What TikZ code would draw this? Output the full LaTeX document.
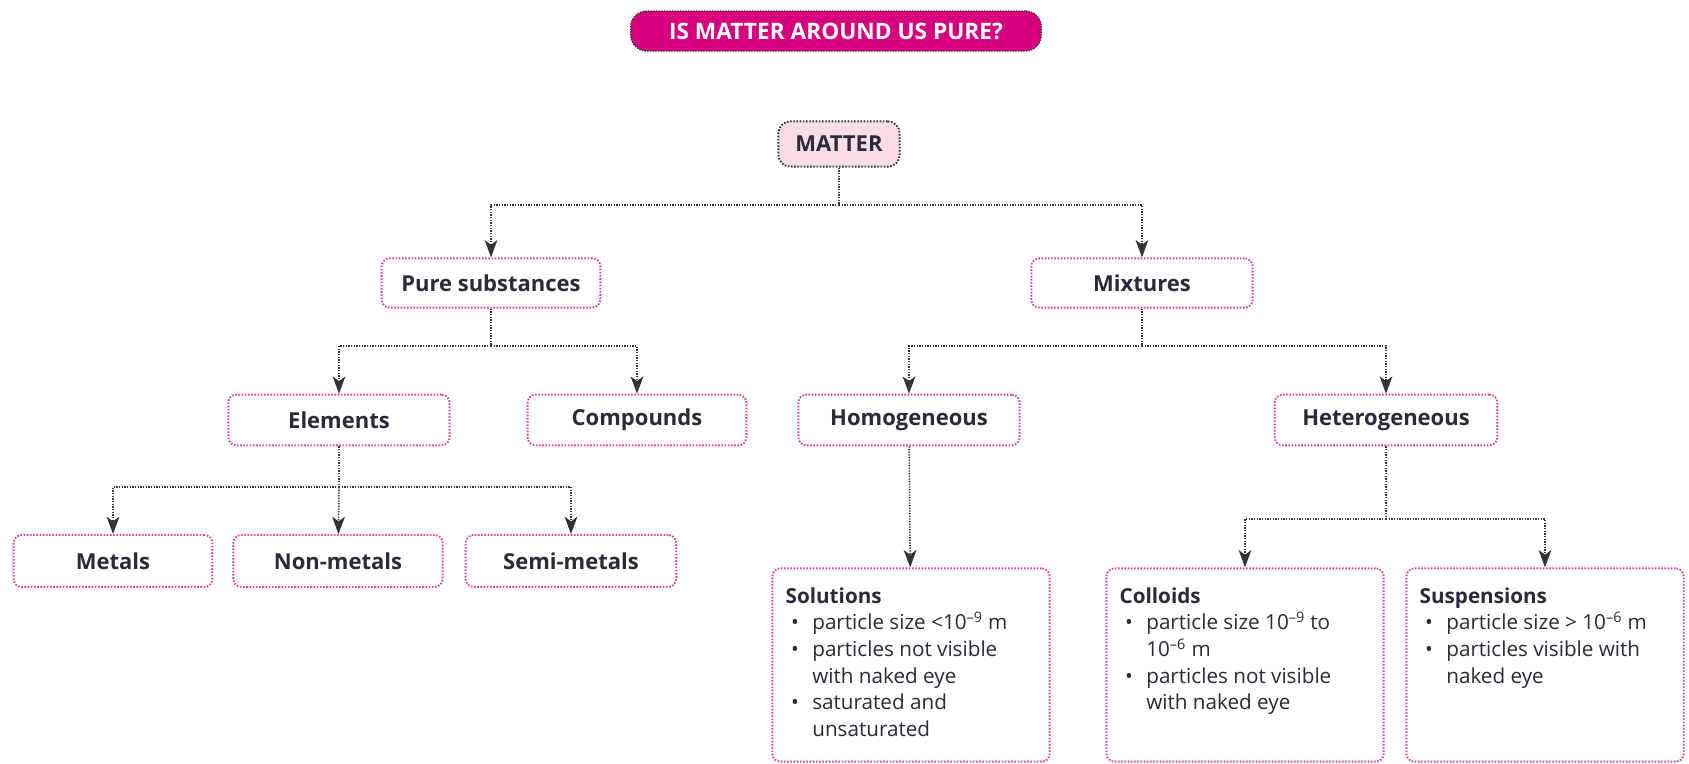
\documentclass[tikz,border=0pt]{standalone}
\usepackage{fontspec}
\setmainfont{Open Sans}
\usetikzlibrary{arrows.meta,positioning,calc}
\definecolor{titlecol}{HTML}{D6007F}
\definecolor{pinkfill}{HTML}{FBDDE6}
\definecolor{pinkline}{HTML}{E2409C}
\definecolor{textcol}{HTML}{2A2A38}
\definecolor{linecol}{HTML}{333333}
\newcommand{\bitem}{\makebox[20pt][l]{\hspace{4pt}\textbullet}}
\newcommand{\bcont}{\hspace*{20pt}}
\newcommand{\headline}[1]{\rule{0pt}{26pt}{\bfseries #1}}

\begin{document}
\begin{tikzpicture}[x=0.75pt, y=-0.75pt,
  box/.style={draw=pinkline, line width=1.4pt, dash pattern=on 1.2pt off 1.2pt,
              rounded corners=6pt, fill=white, text=textcol,
              font=\fontsize{16.5}{19}\selectfont\bfseries, minimum height=37pt},
  leaf/.style={box, minimum height=39pt},
  infobox/.style={box, font=\fontsize{15.5}{20}\selectfont, inner xsep=10pt, inner ysep=0pt},
  conn/.style={draw=linecol, line width=1.2pt, dash pattern=on 1pt off 1pt},
  arr/.style={conn, -{Stealth[length=13pt, width=9.5pt, inset=3.5pt]}}
]
  \useasboundingbox (0,0) rectangle (1689,764);

  \node[fill=titlecol, draw=linecol, line width=1pt, dash pattern=on 1pt off 1pt,
        rounded corners=12pt, minimum width=308pt, minimum height=30pt,
        text=white, font=\fontsize{17}{20}\selectfont\bfseries] (title) at (836,31) {IS MATTER AROUND US PURE?};

  \node[box, fill=pinkfill, draw=linecol, rounded corners=9pt,
        minimum width=91pt, minimum height=34pt] (matter) at (839,144) {MATTER};

  \node[box, minimum width=164pt] (pure) at (491,283) {Pure substances};
  \node[box, minimum width=166pt] (mix) at (1142,283) {Mixtures};

  \node[box, minimum width=166pt, minimum height=38pt] (elem) at (339,420) {Elements};
  \node[box, minimum width=164pt, minimum height=38pt] (comp) at (637,420) {Compounds};
  \node[box, minimum width=166pt, minimum height=38pt] (homo) at (909,420) {Homogeneous};
  \node[box, minimum width=167pt, minimum height=38pt] (hetero) at (1386,420) {Heterogeneous};

  \node[leaf, minimum width=149pt] (metal) at (113,561) {Metals};
  \node[leaf, minimum width=157pt] (nonmetal) at (338,561) {Non-metals};
  \node[leaf, minimum width=158pt] (semimetal) at (571,561) {Semi-metals};

  \node[infobox, minimum width=208pt] (sol) at (911,665) {\parbox[c][145pt][t]{188pt}{\raggedright
    \headline{Solutions}\\
    \bitem particle size <10\textsuperscript{–9} m\\
    \bitem particles not visible\\
    \bcont with naked eye\\
    \bitem saturated and\\
    \bcont unsaturated}};
  \node[infobox, minimum width=208pt] (coll) at (1245,665) {\parbox[c][145pt][t]{188pt}{\raggedright
    \headline{Colloids}\\
    \bitem particle size 10\textsuperscript{–9} to\\
    \bcont 10\textsuperscript{–6} m\\
    \bitem particles not visible\\
    \bcont with naked eye}};
  \node[infobox, minimum width=208pt] (susp) at (1545,665) {\parbox[c][145pt][t]{188pt}{\raggedright
    \headline{Suspensions}\\
    \bitem particle size > 10\textsuperscript{–6} m\\
    \bitem particles visible with\\
    \bcont naked eye}};

  % branch points
  \coordinate (mj) at (matter.south |- 0,205);
  \coordinate (pj) at (pure.south |- 0,346);
  \coordinate (xj) at (mix.south |- 0,346);
  \coordinate (ej) at (elem.south |- 0,487);
  \coordinate (hj) at (hetero.south |- 0,519);

  \draw[conn] (matter) -- (mj);
  \draw[arr] (mj) -| (pure);
  \draw[arr] (mj) -| (mix);

  \draw[conn] (pure) -- (pj);
  \draw[arr] (pj) -| (elem);
  \draw[arr] (pj) -| (comp);

  \draw[conn] (mix) -- (xj);
  \draw[arr] (xj) -| (homo);
  \draw[arr] (xj) -| (hetero);

  \draw[conn] (elem) -- (ej);
  \draw[arr] (ej) -| (metal);
  \draw[arr] (ej) -- (nonmetal);
  \draw[arr] (ej) -| (semimetal);

  \draw[arr] (homo) -- (sol);

  \draw[conn] (hetero) -- (hj);
  \draw[arr] (hj) -| (coll);
  \draw[arr] (hj) -| (susp);
\end{tikzpicture}
\end{document}
